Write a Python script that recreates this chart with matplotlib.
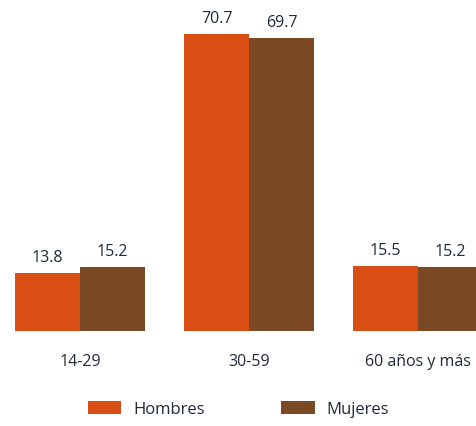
import matplotlib.pyplot as plt
import numpy as np

plt.rcParams['font.family'] = ['Open Sans', 'DejaVu Sans']

groups = ['14-29', '30-59', '60 años y más']
hombres = [13.8, 70.7, 15.5]
mujeres = [15.2, 69.7, 15.2]
series_names = ['Hombres', 'Mujeres']
colors = ['#D84E14', '#7B4A25']

W, H = 477, 427
fig = plt.figure(figsize=(W / 100, H / 100), dpi=100)
# axes spans the full width, baseline at 332 px from top
ax = fig.add_axes([0, (H - 332) / H, 1, 332 / H])

x = np.arange(len(groups))
bw = 65 / 169  # bar width in group units (group spacing ~169 px)

b1 = ax.bar(x - bw / 2, hombres, bw, color=colors[0], label=series_names[0])
b2 = ax.bar(x + bw / 2, mujeres, bw, color=colors[1], label=series_names[1])

for bars in (b1, b2):
    ax.bar_label(bars, fmt='%.1f', padding=6, fontsize=11.5, color='#1f2a3a')

left = -bw - 15 / 169
ax.set_xlim(left, left + W / 169)
ax.set_ylim(0, 332 / 4.2)

ax.set_xticks(x)
ax.set_xticklabels(groups, fontsize=11.5, color='#1f2a3a')
ax.tick_params(axis='x', length=0, pad=16)
ax.set_yticks([])
for s in ax.spines.values():
    s.set_visible(False)

fig.legend(ncol=2, loc='center', bbox_to_anchor=(238.5 / W, 1 - 410 / H),
           frameon=False, fontsize=12, handlelength=2.0, handleheight=0.78,
           handletextpad=0.72, columnspacing=4.6, labelcolor='#1f2a3a')

fig.savefig('out.png', dpi=100)
